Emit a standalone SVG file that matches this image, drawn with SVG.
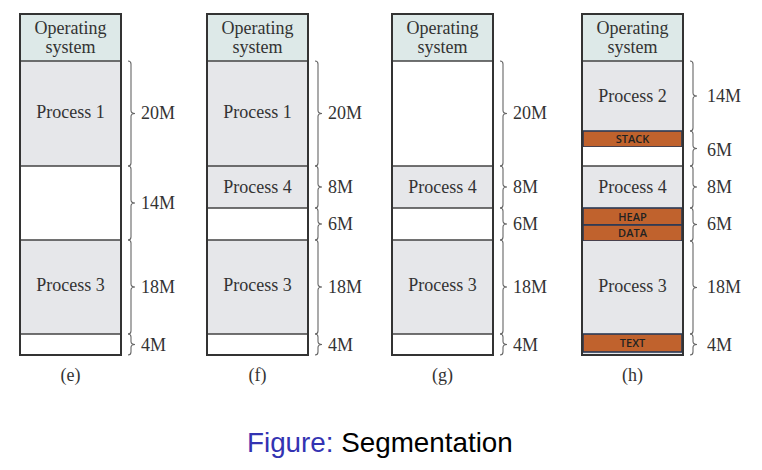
<svg xmlns="http://www.w3.org/2000/svg" width="762" height="470" viewBox="0 0 762 470">
<style>
.col{fill:#ffffff;stroke:#333;stroke-width:2}
.os{fill:#dde9e8}
.proc{fill:#e6e7ea}
.div{stroke:#444;stroke-width:1.6}
.seg{fill:#c0622d;stroke:#2b3a55;stroke-width:1.6}
.t{font-family:"Liberation Serif",serif;font-size:18px;fill:#333;text-anchor:middle}
.lab{font-family:"Liberation Serif",serif;font-size:18px;fill:#333}
.st{font-family:"Open Sans","Liberation Sans",sans-serif;font-size:11px;font-weight:600;fill:#222;text-anchor:middle}
.br{fill:none;stroke:#666;stroke-width:1.1}
</style>
<rect width="762" height="470" fill="#ffffff"/>

<g id="col-e">
  <rect class="col" x="20" y="14" width="101" height="341"/>
  <g id="e-os"><rect class="os" x="21" y="15" width="99" height="46"/><text class="t" x="70.5" y="34">Operating</text><text class="t" x="70.5" y="53">system</text></g>
  <g id="e-p1"><rect class="proc" x="21" y="61" width="99" height="105"/><text class="t" x="70.5" y="118">Process 1</text></g>
  <g id="e-hole1"><rect fill="#fff" x="21" y="166" width="99" height="74"/></g>
  <g id="e-p3"><rect class="proc" x="21" y="240" width="99" height="94"/><text class="t" x="70.5" y="291">Process 3</text></g>
  <g id="e-hole2"><rect fill="#fff" x="21" y="334" width="99" height="20"/></g>
  <path class="div" d="M20 61H121M20 166H121M20 240H121M20 334H121"/>
  <rect fill="none" stroke="#333" stroke-width="2" x="20" y="14" width="101" height="341"/>
  <text class="t" x="70.5" y="381">(e)</text>
</g>

<g id="col-f">
  <rect class="col" x="207" y="14" width="101" height="341"/>
  <g id="f-os"><rect class="os" x="208" y="15" width="99" height="46"/><text class="t" x="257.5" y="34">Operating</text><text class="t" x="257.5" y="53">system</text></g>
  <g id="f-p1"><rect class="proc" x="208" y="61" width="99" height="105"/><text class="t" x="257.5" y="118">Process 1</text></g>
  <g id="f-p4"><rect class="proc" x="208" y="166" width="99" height="42"/><text class="t" x="257.5" y="193">Process 4</text></g>
  <g id="f-hole1"><rect fill="#fff" x="208" y="208" width="99" height="32"/></g>
  <g id="f-p3"><rect class="proc" x="208" y="240" width="99" height="94"/><text class="t" x="257.5" y="291">Process 3</text></g>
  <g id="f-hole2"><rect fill="#fff" x="208" y="334" width="99" height="20"/></g>
  <path class="div" d="M207 61H308M207 166H308M207 208H308M207 240H308M207 334H308"/>
  <rect fill="none" stroke="#333" stroke-width="2" x="207" y="14" width="101" height="341"/>
  <text class="t" x="257.5" y="381">(f)</text>
</g>

<g id="col-g">
  <rect class="col" x="392" y="14" width="101" height="341"/>
  <g id="g-os"><rect class="os" x="393" y="15" width="99" height="46"/><text class="t" x="442.5" y="34">Operating</text><text class="t" x="442.5" y="53">system</text></g>
  <g id="g-hole0"><rect fill="#fff" x="393" y="61" width="99" height="105"/></g>
  <g id="g-p4"><rect class="proc" x="393" y="166" width="99" height="42"/><text class="t" x="442.5" y="193">Process 4</text></g>
  <g id="g-hole1"><rect fill="#fff" x="393" y="208" width="99" height="32"/></g>
  <g id="g-p3"><rect class="proc" x="393" y="240" width="99" height="94"/><text class="t" x="442.5" y="291">Process 3</text></g>
  <g id="g-hole2"><rect fill="#fff" x="393" y="334" width="99" height="20"/></g>
  <path class="div" d="M392 61H493M392 166H493M392 208H493M392 240H493M392 334H493"/>
  <rect fill="none" stroke="#333" stroke-width="2" x="392" y="14" width="101" height="341"/>
  <text class="t" x="442.5" y="381">(g)</text>
</g>

<g id="col-h">
  <rect class="col" x="582" y="14" width="101" height="341"/>
  <g id="h-os"><rect class="os" x="583" y="15" width="99" height="46"/><text class="t" x="632.5" y="34">Operating</text><text class="t" x="632.5" y="53">system</text></g>
  <g id="h-p2"><rect class="proc" x="583" y="61" width="99" height="70"/><text class="t" x="632.5" y="102">Process 2</text></g>
  <g id="h-stack"><rect class="seg" x="583" y="131" width="99" height="16"/><text class="st" x="632.5" y="143">STACK</text></g>
  <g id="h-hole1"><rect fill="#fff" x="583" y="147" width="99" height="19"/></g>
  <g id="h-p4"><rect class="proc" x="583" y="166" width="99" height="42"/><text class="t" x="632.5" y="193">Process 4</text></g>
  <g id="h-heap"><rect class="seg" x="583" y="208" width="99" height="17"/><text class="st" x="632.5" y="220.5">HEAP</text></g>
  <g id="h-data"><rect class="seg" x="583" y="225" width="99" height="16"/><text class="st" x="632.5" y="237">DATA</text></g>
  <g id="h-p3"><rect class="proc" x="583" y="241" width="99" height="93"/><text class="t" x="632.5" y="292">Process 3</text></g>
  <g id="h-text"><rect class="proc" x="583" y="334" width="99" height="20"/><rect class="seg" x="583" y="334" width="99" height="18"/><text class="st" x="632.5" y="347">TEXT</text></g>
  <path class="div" d="M582 61H683M582 166H683"/>
  <rect fill="none" stroke="#333" stroke-width="2" x="582" y="14" width="101" height="341"/>
  <text class="t" x="632.5" y="381">(h)</text>
</g>

<g id="connectors">
  <path class="br" d="M128 61Q131 61 131 64L131 110.5Q131 113.5 135 113.5Q131 113.5 131 116.5L131 163Q131 166 128 166"/>
  <path class="br" d="M128 166Q131 166 131 169L131 200Q131 203 135 203Q131 203 131 206L131 237Q131 240 128 240"/>
  <path class="br" d="M128 240Q131 240 131 243L131 284Q131 287 135 287Q131 287 131 290L131 331Q131 334 128 334"/>
  <path class="br" d="M128 334Q131 334 131 337L131 341.5Q131 344.5 135 344.5Q131 344.5 131 347.5L131 352Q131 355 128 355"/>

  <path class="br" d="M315 61Q318 61 318 64L318 110.5Q318 113.5 322 113.5Q318 113.5 318 116.5L318 163Q318 166 315 166"/>
  <path class="br" d="M315 166Q318 166 318 169L318 184Q318 187 322 187Q318 187 318 190L318 205Q318 208 315 208"/>
  <path class="br" d="M315 208Q318 208 318 211L318 221Q318 224 322 224Q318 224 318 227L318 237Q318 240 315 240"/>
  <path class="br" d="M315 240Q318 240 318 243L318 284Q318 287 322 287Q318 287 318 290L318 331Q318 334 315 334"/>
  <path class="br" d="M315 334Q318 334 318 337L318 341.5Q318 344.5 322 344.5Q318 344.5 318 347.5L318 352Q318 355 315 355"/>

  <path class="br" d="M500 61Q503 61 503 64L503 110.5Q503 113.5 507 113.5Q503 113.5 503 116.5L503 163Q503 166 500 166"/>
  <path class="br" d="M500 166Q503 166 503 169L503 184Q503 187 507 187Q503 187 503 190L503 205Q503 208 500 208"/>
  <path class="br" d="M500 208Q503 208 503 211L503 221Q503 224 507 224Q503 224 503 227L503 237Q503 240 500 240"/>
  <path class="br" d="M500 240Q503 240 503 243L503 284Q503 287 507 287Q503 287 503 290L503 331Q503 334 500 334"/>
  <path class="br" d="M500 334Q503 334 503 337L503 341.5Q503 344.5 507 344.5Q503 344.5 503 347.5L503 352Q503 355 500 355"/>

  <path class="br" d="M690 61Q693 61 693 64L693 93Q693 96 697 96Q693 96 693 99L693 128Q693 131 690 131"/>
  <path class="br" d="M690 131Q693 131 693 134L693 145.5Q693 148.5 697 148.5Q693 148.5 693 151.5L693 163Q693 166 690 166"/>
  <path class="br" d="M690 166Q693 166 693 169L693 184Q693 187 697 187Q693 187 693 190L693 205Q693 208 690 208"/>
  <path class="br" d="M690 208Q693 208 693 211L693 221.5Q693 224.5 697 224.5Q693 224.5 693 227.5L693 238Q693 241 690 241"/>
  <path class="br" d="M690 241Q693 241 693 244L693 284.5Q693 287.5 697 287.5Q693 287.5 693 290.5L693 331Q693 334 690 334"/>
  <path class="br" d="M690 334Q693 334 693 337L693 341.5Q693 344.5 697 344.5Q693 344.5 693 347.5L693 352Q693 355 690 355"/>
</g>

<g id="labels">
  <text class="lab" x="141" y="119">20M</text>
  <text class="lab" x="141" y="209">14M</text>
  <text class="lab" x="141" y="293">18M</text>
  <text class="lab" x="141" y="351">4M</text>
  <text class="lab" x="328" y="119">20M</text>
  <text class="lab" x="328" y="193">8M</text>
  <text class="lab" x="328" y="230">6M</text>
  <text class="lab" x="328" y="293">18M</text>
  <text class="lab" x="328" y="351">4M</text>
  <text class="lab" x="513" y="119">20M</text>
  <text class="lab" x="513" y="193">8M</text>
  <text class="lab" x="513" y="230">6M</text>
  <text class="lab" x="513" y="293">18M</text>
  <text class="lab" x="513" y="351">4M</text>
  <text class="lab" x="707" y="102">14M</text>
  <text class="lab" x="707" y="156">6M</text>
  <text class="lab" x="707" y="193">8M</text>
  <text class="lab" x="707" y="230">6M</text>
  <text class="lab" x="707" y="293">18M</text>
  <text class="lab" x="707" y="351">4M</text>
</g>

<text x="247" y="452" font-family="'Liberation Sans',Arial,sans-serif" font-size="27.8" fill="#000"><tspan fill="#3333b2">Figure:</tspan> Segmentation</text>
</svg>
